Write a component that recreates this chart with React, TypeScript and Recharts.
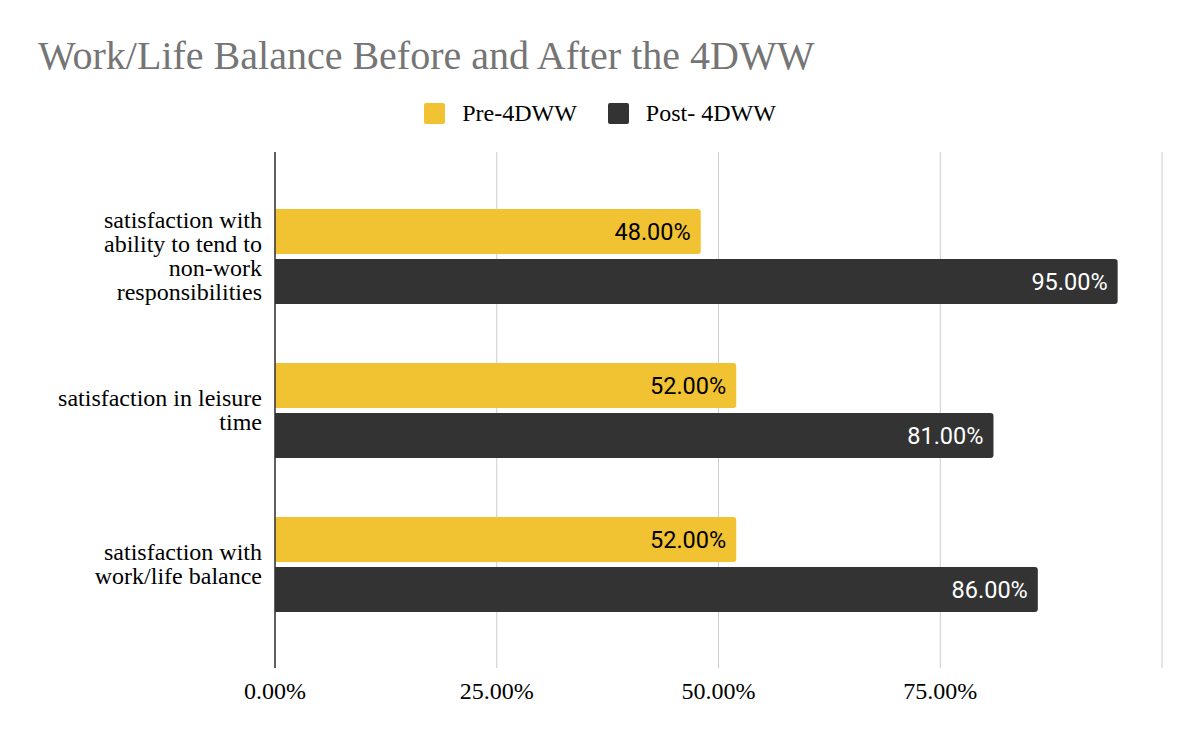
import React from "react";
import {
  BarChart,
  Bar,
  XAxis,
  YAxis,
  CartesianGrid,
  Legend,
  LabelList,
} from "recharts";

const categories = [
  "satisfaction with ability to tend to non-work responsibilities",
  "satisfaction in leisure time",
  "satisfaction with work/life balance",
];
const categoryLines = [
  ["satisfaction with", "ability to tend to", "non-work", "responsibilities"],
  ["satisfaction in leisure", "time"],
  ["satisfaction with", "work/life balance"],
];
const preValues = [48, 52, 52];
const postValues = [95, 81, 86];
const xTicks = [0, 25, 50, 75, 100];
const seriesNames = ["Pre-4DWW", "Post- 4DWW"];
const title = "Work/Life Balance Before and After the 4DWW";

const YELLOW = "#F1C232";
const DARK = "#333333";
const SERIF = '"Liberation Serif", "Times New Roman", serif';
const SANS = 'Roboto, "Noto Sans", sans-serif';

const data = categories.map((c, i) => ({
  category: c,
  pre: preValues[i],
  post: postValues[i],
}));

const fmt = (v: number) => `${v.toFixed(2)}%`;

const CategoryTick = (props: any) => {
  const { x, y, payload } = props;
  const idx = categories.indexOf(payload.value);
  const lines = idx >= 0 ? categoryLines[idx] : [String(payload.value)];
  const lh = 24;
  const start = y - ((lines.length - 1) * lh) / 2;
  return (
    <text
      x={x}
      y={start}
      textAnchor="end"
      fontFamily={SERIF}
      fontSize={24}
      fill="#000"
    >
      {lines.map((l, i) => (
        <tspan key={i} x={x} y={start + i * lh} dy="0.35em">
          {l}
        </tspan>
      ))}
    </text>
  );
};

const LegendContent = () => {
  const colors = [YELLOW, DARK];
  return (
    <div
      style={{
        display: "flex",
        justifyContent: "center",
        alignItems: "center",
        height: 27,
        fontFamily: SERIF,
        fontSize: 24,
        color: "#000",
      }}
    >
      {seriesNames.map((n, i) => (
        <div
          key={n}
          style={{
            display: "flex",
            alignItems: "center",
            marginLeft: i === 0 ? 0 : 31,
          }}
        >
          <div
            style={{
              width: 21,
              height: 21,
              borderRadius: 2,
              background: colors[i],
              marginRight: 17,
            }}
          />
          <span>{n}</span>
        </div>
      ))}
    </div>
  );
};

export default function App() {
  return (
    <div
      style={{
        position: "absolute",
        left: 0,
        top: 0,
        width: 1200,
        height: 742,
        background: "#fff",
      }}
    >
      <div
        style={{
          position: "absolute",
          left: 38,
          top: 34,
          fontFamily: SERIF,
          fontSize: 40,
          color: "#757575",
          lineHeight: "44px",
          whiteSpace: "nowrap",
        }}
      >
        {title}
      </div>
      <BarChart
        width={1200}
        height={742}
        data={data}
        layout="vertical"
        margin={{ top: 152, right: 38, bottom: 34, left: 0 }}
        barSize={45}
        barGap={5}
      >
        <CartesianGrid horizontal={false} stroke="#cccccc" />
        <XAxis
          type="number"
          domain={[0, 100]}
          ticks={xTicks}
          tickFormatter={(v: number) => (v === 100 ? "" : fmt(v))}
          axisLine={false}
          tickLine={false}
          tickSize={6}
          tickMargin={8}
          height={40}
          tick={{ fontFamily: SERIF, fontSize: 24, fill: "#000" }}
        />
        <YAxis
          type="category"
          dataKey="category"
          width={275}
          axisLine={{ stroke: DARK, strokeWidth: 1.5 }}
          tickLine={false}
          tickSize={6}
          tickMargin={7}
          padding={{ top: 27, bottom: 27 }}
          tick={<CategoryTick />}
          interval={0}
        />
        <Legend
          layout="horizontal"
          verticalAlign="middle"
          align="center"
          wrapperStyle={{ top: 100, left: 0, width: 1200 }}
          content={<LegendContent />}
        />
        <Bar
          dataKey="pre"
          name={seriesNames[0]}
          fill={YELLOW}
          radius={[0, 3, 3, 0]}
          isAnimationActive={false}
        >
          <LabelList
            dataKey="pre"
            position="insideRight"
            offset={10}
            formatter={(v: any) => fmt(Number(v))}
            style={{ fontFamily: SANS, fontSize: 23.5, fill: "#000" }}
          />
        </Bar>
        <Bar
          dataKey="post"
          name={seriesNames[1]}
          fill={DARK}
          radius={[0, 3, 3, 0]}
          isAnimationActive={false}
        >
          <LabelList
            dataKey="post"
            position="insideRight"
            offset={10}
            formatter={(v: any) => fmt(Number(v))}
            style={{ fontFamily: SANS, fontSize: 23.5, fill: "#fff" }}
          />
        </Bar>
      </BarChart>
    </div>
  );
}
